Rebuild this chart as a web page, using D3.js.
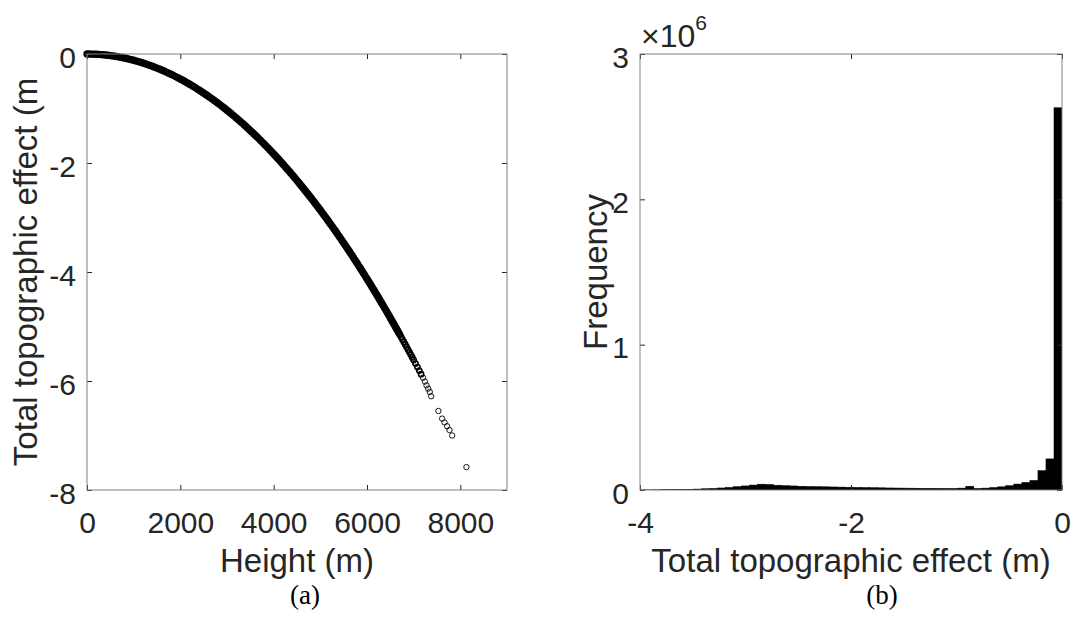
<!DOCTYPE html>
<html>
<head>
<meta charset="utf-8">
<script src="https://cdn.jsdelivr.net/npm/d3@7"></script>
<style>
  body { margin: 0; background: #fff; }
  text { font-family: "Liberation Sans", Arial, Helvetica, sans-serif; fill: #262626; }
  .caption { font-family: "Liberation Serif", "Times New Roman", serif; fill: #000; }
</style>
</head>
<body>
<svg id="fig" width="1073" height="617"></svg>
<script>
// (a) Total topographic effect versus height: dense band of points [height m, effect m]
const bandPoints = [
  [0,0],[50,-0.0003],[100,-0.0011],[150,-0.0026],[200,-0.0046],[250,-0.0072],[300,-0.0103],[350,-0.0140],
  [400,-0.0183],[450,-0.0232],[500,-0.0287],[550,-0.0347],[600,-0.0413],[650,-0.0484],[700,-0.0562],[750,-0.0645],
  [800,-0.0733],[850,-0.0828],[900,-0.0928],[950,-0.1034],[1000,-0.1146],[1050,-0.1263],[1100,-0.1387],[1150,-0.1516],
  [1200,-0.1650],[1250,-0.1791],[1300,-0.1937],[1350,-0.2089],[1400,-0.2246],[1450,-0.2409],[1500,-0.2579],[1550,-0.2753],
  [1600,-0.2934],[1650,-0.3120],[1700,-0.3312],[1750,-0.3510],[1800,-0.3713],[1850,-0.3922],[1900,-0.4137],[1950,-0.4358],
  [2000,-0.4584],
  [2040,-0.4769],[2080,-0.4958],[2120,-0.5151],[2160,-0.5347],[2200,-0.5547],[2240,-0.5750],[2280,-0.5957],[2320,-0.6168],
  [2360,-0.6383],[2400,-0.6601],[2440,-0.6823],[2480,-0.7048],[2520,-0.7278],[2560,-0.7510],[2600,-0.7747],[2640,-0.7987],
  [2680,-0.8231],[2720,-0.8479],[2760,-0.8730],[2800,-0.8985],[2840,-0.9243],[2880,-0.9505],[2920,-0.9771],[2960,-1.0041],
  [3000,-1.0314],[3040,-1.0591],[3080,-1.0871],[3120,-1.1156],[3160,-1.1444],[3200,-1.1735],[3240,-1.2030],[3280,-1.2329],
  [3320,-1.2632],[3360,-1.2938],[3400,-1.3248],[3440,-1.3561],[3480,-1.3879],[3520,-1.4199],[3560,-1.4524],[3600,-1.4852],
  [3640,-1.5184],[3680,-1.5520],[3720,-1.5859],[3760,-1.6202],[3800,-1.6548],[3840,-1.6898],[3880,-1.7252],[3920,-1.7610],
  [3960,-1.7971],[4000,-1.8336],
  [4030,-1.8612],[4060,-1.8890],[4090,-1.9170],[4120,-1.9453],[4150,-1.9737],[4180,-2.0023],[4210,-2.0312],[4240,-2.0602],
  [4270,-2.0895],[4300,-2.1190],[4330,-2.1486],[4360,-2.1785],[4390,-2.2086],[4420,-2.2389],[4450,-2.2694],[4480,-2.3001],
  [4510,-2.3310],[4540,-2.3621],[4570,-2.3934],[4600,-2.4249],[4630,-2.4567],[4660,-2.4886],[4690,-2.5208],[4720,-2.5531],
  [4750,-2.5857],[4780,-2.6184],[4810,-2.6514],[4840,-2.6846],[4870,-2.7180],[4900,-2.7515],[4930,-2.7853],[4960,-2.8193],
  [4990,-2.8535],[5020,-2.8880],[5050,-2.9226],[5080,-2.9574],[5110,-2.9925],[5140,-3.0277],[5170,-3.0631],[5200,-3.0988],
  [5230,-3.1346],[5260,-3.1707],[5290,-3.2070],[5320,-3.2435],[5350,-3.2801],[5380,-3.3170],[5410,-3.3541],[5440,-3.3914],
  [5470,-3.4289],[5500,-3.4667],[5530,-3.5046],[5560,-3.5427],[5590,-3.5810],[5620,-3.6196],[5650,-3.6583],[5680,-3.6973],
  [5710,-3.7364],[5740,-3.7758],[5770,-3.8154],[5800,-3.8551],[5830,-3.8951],[5860,-3.9353],[5890,-3.9757],[5920,-4.0163],
  [5950,-4.0571],[5980,-4.0981],
  [6000,-4.1256],[6025,-4.1600],[6050,-4.1946],[6075,-4.2294],[6100,-4.2643],[6125,-4.2993],[6150,-4.3345],[6175,-4.3698],
  [6200,-4.4052],[6225,-4.4408],[6250,-4.4766],[6275,-4.5124],[6300,-4.5485],[6325,-4.5846],[6350,-4.6210],[6375,-4.6574],
  [6400,-4.6940],[6425,-4.7308],[6450,-4.7677],[6475,-4.8047],[6500,-4.8419],[6525,-4.8792],[6550,-4.9166],[6575,-4.9542],
  [6600,-4.9920],[6625,-5.0299],[6650,-5.0679],[6675,-5.1061],[6700,-5.1444]
];

// (a) thinning band above 6700 m
const upperPoints = [
  [6730,-5.1906],[6760,-5.2370],[6790,-5.2835],[6820,-5.3303],[6850,-5.3773],[6880,-5.4245],[6910,-5.4719],
  [6940,-5.5196],[6970,-5.5674],[7000,-5.6154],[7040,-5.6798],[7080,-5.7445],[7120,-5.8096],[7160,-5.8750]
];

// (a) isolated points at the highest elevations
const outlierPoints = [
  [7200,-5.94],[7240,-6.01],[7275,-6.08],[7310,-6.14],[7345,-6.20],[7375,-6.28],
  [7530,-6.55],[7610,-6.69],[7660,-6.76],[7717,-6.83],[7767,-6.90],[7825,-7.00],
  [8131,-7.58]
];

const heightTicks = [0, 2000, 4000, 6000, 8000];
const effectTicks = [-8, -6, -4, -2, 0];

// (b) Histogram of the total topographic effect.
// Counts per bin, first bin ends at 0 m, each next bin one bin width further negative.
const binWidth = 0.076;
const binCounts = [
  2630000, 214000, 133000, 66000, 52000, 41000, 30000, 22000, 17000, 13000,
  11000, 26000, 13000, 11000, 11000, 11500, 12000, 12000, 12500, 13000,
  13500, 14000, 15000, 16000, 17000, 18000, 19000, 20000, 21000, 22000,
  23000, 24000, 26000, 28000, 30000, 33000, 38000, 40000, 34000, 28000,
  23000, 18000, 14000, 11000, 8500, 6500, 5000, 3800, 2800, 2000,
  1500, 1000, 700
];
const histTicks = [-4, -2, 0];
const freqTicks = [0, 1e6, 2e6, 3e6];

const svg = d3.select("#fig");
const TICK_FONT = 30, LABEL_FONT = 33, TICK_LEN = 5;

// Box with inward ticks on all four sides, labels on bottom and left.
function frame(x, y, xTicks, yTicks, xFmt, yFmt) {
  const [x0, x1] = x.range();
  const [yb, yt] = y.range();
  const g = svg.append("g");

  const styleTicks = sel => {
    sel.select(".domain").remove();
    sel.selectAll(".tick line").attr("stroke", "#262626").attr("stroke-width", 1);
  };

  g.append("g").attr("transform", `translate(0,${yb})`)
    .call(d3.axisBottom(x).tickValues(xTicks).tickFormat(xFmt).tickSizeInner(-TICK_LEN).tickSizeOuter(0))
    .call(styleTicks)
    .call(s => s.selectAll("text").attr("y", 43).attr("dy", null)
      .style("font-size", TICK_FONT + "px").attr("fill", "#262626"));

  g.append("g").attr("transform", `translate(0,${yt})`)
    .call(d3.axisTop(x).tickValues(xTicks).tickFormat("").tickSizeInner(-TICK_LEN).tickSizeOuter(0))
    .call(styleTicks).call(s => s.selectAll("text").remove());

  g.append("g").attr("transform", `translate(${x0},0)`)
    .call(d3.axisLeft(y).tickValues(yTicks).tickFormat(yFmt).tickSizeInner(-TICK_LEN).tickSizeOuter(0))
    .call(styleTicks)
    .call(s => s.selectAll("text").attr("x", -11).attr("y", 13).attr("dy", null)
      .style("font-size", TICK_FONT + "px").attr("fill", "#262626"));

  g.append("g").attr("transform", `translate(${x1},0)`)
    .call(d3.axisRight(y).tickValues(yTicks).tickFormat("").tickSizeInner(-TICK_LEN).tickSizeOuter(0))
    .call(styleTicks).call(s => s.selectAll("text").remove());

  g.append("rect")
    .attr("x", x0).attr("y", yt).attr("width", x1 - x0).attr("height", yb - yt)
    .attr("fill", "none").attr("stroke", "#808080").attr("stroke-width", 1);
  return g;
}

// ---------- (a) scatter ----------
const xA = d3.scaleLinear().domain([0, 9000]).range([87, 507]);
const yA = d3.scaleLinear().domain([-8, 0]).range([490, 54]);

const dot = (sel, r, w) => sel
  .attr("cx", d => xA(d[0])).attr("cy", d => yA(d[1]))
  .attr("r", r).attr("fill", "none").attr("stroke", "#000").attr("stroke-width", w);

svg.append("g").selectAll("circle").data(bandPoints).join("circle").call(dot, 2.5, 2.3);
svg.append("g").selectAll("circle").data(upperPoints).join("circle").call(dot, 2.6, 1.6);
svg.append("g").selectAll("circle").data(outlierPoints).join("circle").call(dot, 2.7, 0.9);

frame(xA, yA, heightTicks, effectTicks, d => String(d), d => String(d));

svg.append("text")
  .attr("transform", `translate(37,${(yA(-8) + yA(0)) / 2}) rotate(-90)`)
  .attr("text-anchor", "middle").style("font-size", LABEL_FONT + "px")
  .text("Total topographic effect (m");

svg.append("text")
  .attr("x", (xA(0) + xA(9000)) / 2).attr("y", 572)
  .attr("text-anchor", "middle").style("font-size", LABEL_FONT + "px")
  .text("Height (m)");

svg.append("text").attr("class", "caption")
  .attr("x", 305).attr("y", 604).attr("text-anchor", "middle")
  .style("font-size", "27px").text("(a)");

// ---------- (b) histogram ----------
const xB = d3.scaleLinear().domain([-4, 0]).range([640, 1062]);
const yB = d3.scaleLinear().domain([0, 3e6]).range([490, 54]);

svg.append("clipPath").attr("id", "clipB")
  .append("rect").attr("x", 640).attr("y", 54).attr("width", 422).attr("height", 436);

const bins = binCounts.map((c, i) => ({ hi: -binWidth * i, lo: -binWidth * (i + 1), count: c }));

svg.append("g").attr("clip-path", "url(#clipB)")
  .selectAll("rect").data(bins).join("rect")
  .attr("x", d => xB(d.lo)).attr("width", d => xB(d.hi) - xB(d.lo))
  .attr("y", d => yB(d.count)).attr("height", d => yB(0) - yB(d.count))
  .attr("fill", "#000").attr("stroke", "#000").attr("stroke-width", 0.5);

frame(xB, yB, histTicks, freqTicks, d => String(d), d => String(d / 1e6));

const expo = svg.append("text").attr("x", 641).attr("y", 47).style("font-size", "32px");
expo.append("tspan").text("×10");
expo.append("tspan").attr("dy", -17).style("font-size", "21px").text("6");

svg.append("text")
  .attr("transform", `translate(607,${(yB(0) + yB(3e6)) / 2}) rotate(-90)`)
  .attr("text-anchor", "middle").style("font-size", LABEL_FONT + "px")
  .text("Frequency");

svg.append("text")
  .attr("x", (xB(-4) + xB(0)) / 2).attr("y", 572)
  .attr("text-anchor", "middle").style("font-size", LABEL_FONT + "px")
  .text("Total topographic effect (m)");

svg.append("text").attr("class", "caption")
  .attr("x", 882).attr("y", 604).attr("text-anchor", "middle")
  .style("font-size", "27px").text("(b)");
</script>
</body>
</html>
